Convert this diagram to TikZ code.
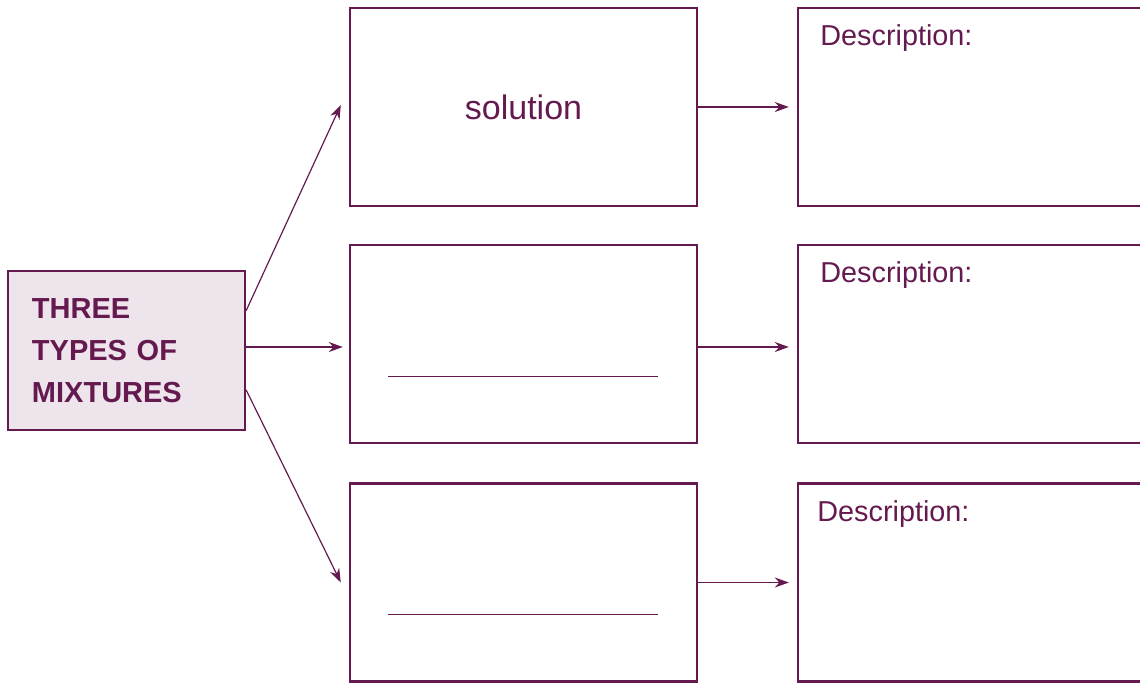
\documentclass[tikz,border=0pt]{standalone}
\usepackage{fontspec}
\setmainfont{Liberation Sans}
\usetikzlibrary{arrows.meta}
\definecolor{plum}{HTML}{651A4F}
\definecolor{plumfill}{HTML}{EDE5EB}
\tikzset{
  box/.style={draw=plum, line width=1.2pt, minimum width=173.5pt, minimum height=99pt, inner sep=0pt, text=plum},
  link/.style={-{Stealth[length=7pt,width=5pt]}, draw=plum, line width=0.6pt, shorten >=4pt},
  desc/.style={anchor=base west, text=plum, inner sep=0pt, font=\fontsize{14.4}{17}\selectfont}
}
\begin{document}
\begin{tikzpicture}[x=0.5pt,y=-0.5pt]
                \useasboundingbox (0,0) rectangle (1140,682);
                \clip (0,0) rectangle (1140,682);
                \node[box, fill=plumfill, minimum width=118.5pt, minimum height=79.5pt, text width=94.5pt, align=left, inner sep=12pt, font=\fontsize{14.5}{21}\selectfont\bfseries] (mix) at (126.5,350.5) {THREE\\TYPES OF\\MIXTURES};

                \node[box, font=\fontsize{17}{20}\selectfont] (sol) at (523.5,107) {solution};
                \node[box] (mid) at (523.5,344) {};
                \node[box] (bot) at (523.5,582.5) {};

                \node[box, minimum width=190pt] (dsol) at (988,107) {};
                \node[box, minimum width=190pt] (dmid) at (988,344) {};
                \node[box, minimum width=190pt] (dbot) at (988,582.5) {};

                \node[desc] (da) at (820,45) {Description:};
                \node[desc] (db) at (820,282) {Description:};
                \node[desc] (dc) at (817,521) {Description:};

                \draw[plum, line width=0.5pt] (388,376) -- (658,376);
                \draw[plum, line width=0.5pt] (388,614) -- (658,614);

                \draw[link, shorten >=0pt] ([yshift=20pt]mix.east) to ([xshift=-4pt,yshift=1pt]sol.west);
                \draw[link, shorten >=3pt] ([yshift=1.75pt]mix.east) to ([yshift=-1.5pt]mid.west);
                \draw[link, shorten >=0pt] ([yshift=-19.75pt]mix.east) to ([xshift=-4pt]bot.west);
                \draw[link] (sol.east) to (dsol.west);
                \draw[link] ([yshift=-1.5pt]mid.east) to ([yshift=-1.5pt]dmid.west);
                \draw[link] (bot.east) to (dbot.west);
            \end{tikzpicture}
\end{document}
